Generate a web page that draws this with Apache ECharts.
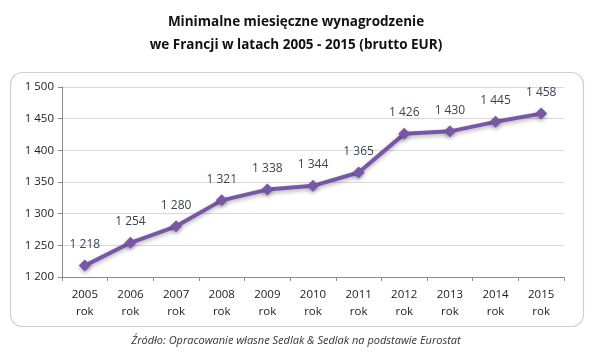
<!DOCTYPE html>
<html><head><meta charset="utf-8">
<script src="https://cdn.jsdelivr.net/npm/echarts@6/dist/echarts.min.js"></script>
<style>html,body{margin:0;padding:0;background:#fff}#c{width:592px;height:356px}</style>
</head><body><div id="c"></div>
<script>
const years = ['2005','2006','2007','2008','2009','2010','2011','2012','2013','2014','2015'];
const values = [1218,1254,1280,1321,1338,1344,1365,1426,1430,1445,1458];
const titleLines = ['Minimalne miesięczne wynagrodzenie','we Francji w latach 2005 - 2015 (brutto EUR)'];
const sourceText = 'Źródło: Opracowanie własne Sedlak & Sedlak na podstawie Eurostat';
const fmt = v => String(v).replace(/\B(?=(\d{3})+(?!\d))/g, ' ');
const chart = echarts.init(document.getElementById('c'));
const font = '"Open Sans", "Noto Sans", sans-serif';
chart.setOption({
  animation: false,
  textStyle: {fontFamily: font},
  title: {
    text: titleLines.join('\n'), left: 'center', top: 6,
    textStyle: {fontSize: 13.5, fontWeight: 'bold', color: '#111', lineHeight: 23, fontFamily: font}
  },
  graphic: [
    {type: 'rect', shape: {x: 10.5, y: 72.5, width: 573, height: 254, r: 12},
     style: {fill: 'none', stroke: '#d0d0d0', lineWidth: 1.2}, z: -1},
    {type: 'text', left: 'center', top: 335,
     style: {text: sourceText, font: 'italic 11px ' + font, fill: '#333'}}
  ],
  grid: {left: 62, right: 28, top: 87, bottom: 79},
  xAxis: {
    type: 'category', data: years, boundaryGap: true,
    axisLine: {lineStyle: {color: '#8c8c8c'}},
    axisTick: {show: true, length: 4, lineStyle: {color: '#8c8c8c'}},
    axisLabel: {formatter: v => v + '\nrok', color: '#222', fontSize: 11.5, lineHeight: 17, margin: 9, fontFamily: font}
  },
  yAxis: {
    type: 'value', min: 1200, max: 1500, interval: 50,
    axisLine: {show: true, lineStyle: {color: '#8c8c8c'}},
    axisTick: {show: true, length: 4, inside: false, lineStyle: {color: '#8c8c8c'}},
    splitLine: {lineStyle: {color: '#d9d9d9'}},
    axisLabel: {formatter: v => fmt(v), color: '#222', fontSize: 11.5, margin: 8, fontFamily: font}
  },
  series: [{
    type: 'line', data: values,
    symbol: 'diamond', symbolSize: 12,
    lineStyle: {color: '#7858a6', width: 4, shadowColor: 'rgba(0,0,0,0.3)', shadowBlur: 4, shadowOffsetY: 2},
    itemStyle: {color: '#7858a6', shadowColor: 'rgba(0,0,0,0.3)', shadowBlur: 4, shadowOffsetY: 2},
    label: {show: true, position: 'top', distance: 9, formatter: p => fmt(p.value), color: '#3c4256', fontSize: 12, fontFamily: font}
  }]
});
</script></body></html>
